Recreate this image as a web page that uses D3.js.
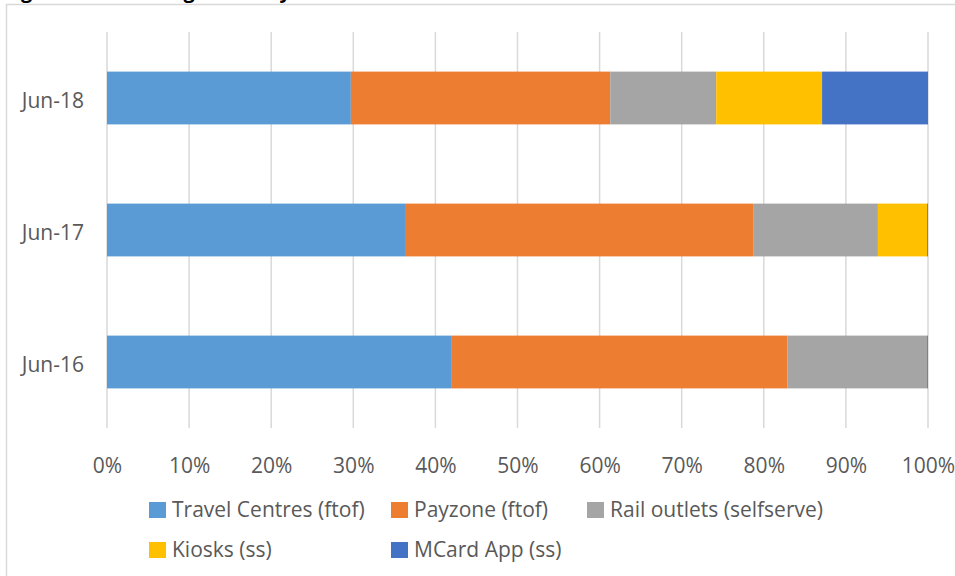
<!DOCTYPE html>
<html>
<head>
<meta charset="utf-8">
<script src="https://cdn.jsdelivr.net/npm/d3@7"></script>
<style>
  body { margin: 0; background: #fff; }
  text { font-family: "Open Sans", "Noto Sans", sans-serif; }
</style>
</head>
<body>
<div id="chart"></div>
<script>
// periods, top to bottom
var periods = ["Jun-18", "Jun-17", "Jun-16"];

var channels = ["Travel Centres (ftof)", "Payzone (ftof)", "Rail outlets (selfserve)", "Kiosks (ss)", "MCard App (ss)"];

// share per channel, same order as periods
var travelCentres = [0.297, 0.363, 0.420];
var payzone       = [0.316, 0.424, 0.409];
var railOutlets   = [0.129, 0.152, 0.170];
var kiosks        = [0.129, 0.060, 0.000];
var mcardApp      = [0.129, 0.001, 0.001];

var tickValues = [0, 0.1, 0.2, 0.3, 0.4, 0.5, 0.6, 0.7, 0.8, 0.9, 1];

var colours = ["#5B9BD5", "#ED7D31", "#A5A5A5", "#FFC000", "#4472C4"];

var width = 955, height = 576;

var rows = periods.map(function(p, i) {
	return {
		period: p,
		"Travel Centres (ftof)": travelCentres[i],
		"Payzone (ftof)": payzone[i],
		"Rail outlets (selfserve)": railOutlets[i],
		"Kiosks (ss)": kiosks[i],
		"MCard App (ss)": mcardApp[i]
	};
});

var svg = d3.select("#chart")
	.append("svg")
	.attr("width", width)
	.attr("height", height);

// title, mostly cut off above the picture (as in the original)
svg.append("text")
	.attr("x", 4)
	.attr("y", -2)
	.attr("font-size", 20)
	.attr("font-weight", "bold")
	.attr("fill", "#000")
	.text("Figure 1: Percentage sales by channel");

// chart frame
svg.append("rect")
	.attr("x", 6.5)
	.attr("y", 4.5)
	.attr("width", 1000)
	.attr("height", 700)
	.attr("fill", "#fff")
	.attr("stroke", "#D9D9D9")
	.attr("stroke-width", 1.5);

var x = d3.scaleLinear().domain([0, 1]).range([107, 928]);
var y = d3.scaleBand().domain(periods).range([32, 428]).paddingInner(0.6).paddingOuter(0.3);

var color = d3.scaleOrdinal().domain(channels).range(colours);

// vertical gridlines
svg.append("g")
	.selectAll("line")
	.data(tickValues)
	.enter()
	.append("line")
	.attr("x1", function(d) { return x(d); })
	.attr("x2", function(d) { return x(d); })
	.attr("y1", 32)
	.attr("y2", 428)
	.attr("stroke", "#D9D9D9")
	.attr("stroke-width", 1.5);

var stack = d3.stack().keys(channels);
var series = stack(rows);

svg.append("g")
	.selectAll("g")
	.data(series)
	.enter()
	.append("g")
	.attr("fill", function(d) { return color(d.key); })
	.selectAll("rect")
	.data(function(d) { return d; })
	.enter()
	.append("rect")
	.attr("x", function(d) { return x(d[0]); })
	.attr("width", function(d) { return Math.max(0, x(d[1]) - x(d[0])); })
	.attr("y", function(d) { return y(d.data.period); })
	.attr("height", y.bandwidth());

// x axis labels
var xAxis = d3.axisBottom(x)
	.tickValues(tickValues)
	.tickFormat(d3.format(".0%"))
	.tickSize(0)
	.tickPadding(0);

var gx = svg.append("g")
	.attr("transform", "translate(0,458)")
	.call(xAxis);
gx.select(".domain").remove();
gx.selectAll("text")
	.attr("font-size", 21)
	.attr("font-family", "'Open Sans', sans-serif")
	.attr("fill", "#595959");

// y axis labels
var yAxis = d3.axisLeft(y).tickSize(0).tickPadding(0);
var gy = svg.append("g")
	.attr("transform", "translate(84,3)")
	.call(yAxis);
gy.select(".domain").remove();
gy.selectAll("text")
	.attr("font-size", 21)
	.attr("font-family", "'Open Sans', sans-serif")
	.attr("fill", "#595959");

// legend
var legendPos = [
	{ x: 149, y: 502 }, { x: 391, y: 502 }, { x: 587, y: 502 },
	{ x: 149, y: 542 }, { x: 391, y: 542 }
];

var legend = svg.append("g")
	.selectAll("g")
	.data(channels)
	.enter()
	.append("g")
	.attr("transform", function(d, i) { return "translate(" + legendPos[i].x + "," + legendPos[i].y + ")"; });

legend.append("rect")
	.attr("width", 17)
	.attr("height", 16)
	.attr("fill", function(d) { return color(d); });

legend.append("text")
	.attr("x", 23)
	.attr("y", 8)
	.attr("dy", "0.35em")
	.attr("font-size", 21)
	.attr("fill", "#595959")
	.text(function(d) { return d; });
</script>
</body>
</html>
